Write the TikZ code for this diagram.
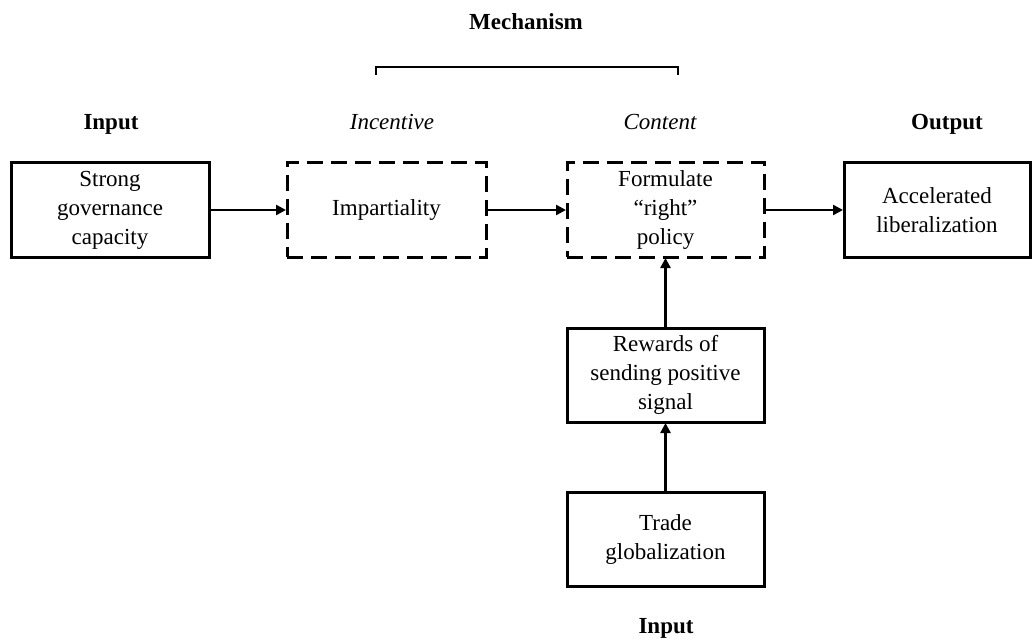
\documentclass[tikz,border=0pt]{standalone}
\usepackage{fontspec}
\setmainfont{Liberation Serif}
\usetikzlibrary{positioning,arrows.meta}

\begin{document}
\begin{tikzpicture}[
  x=1pt, y=-1pt,
  font=\fontsize{23}{29}\selectfont,
  node distance=70pt and 80pt,
  >={Triangle[length=10pt,width=10pt]},
  box/.style={rectangle, draw=black, line width=3pt, align=center,
              minimum width=198pt, minimum height=94pt,
              inner sep=0pt, outer sep=0pt},
  dashbox/.style={box, dash pattern=on 16pt off 8pt},
  flow/.style={->, draw=black, line width=2.4pt, shorten >=1pt},
  headLabel/.style={anchor=base, font=\fontsize{23}{29}\selectfont\bfseries},
  stageLabel/.style={anchor=base, font=\fontsize{23}{29}\selectfont\itshape}
]
\useasboundingbox (0,0) rectangle (1032,639);

% ===== Main chain: input -> incentive -> content -> output =====
\node[box] (strong) at (110,210) {Strong\\governance\\capacity};
\node[dashbox, right=78pt of strong, minimum width=199pt] (impart)
  {Impartiality};
\node[dashbox, right=81pt of impart, minimum width=197pt] (formulate)
  {Formulate\\“right”\\policy};
\node[box, right=80pt of formulate, minimum width=186pt] (accel)
  {Accelerated\\liberalization};

% ===== Second input branch =====
\node[box, below=71pt of formulate, minimum width=197pt] (rewards)
  {Rewards of\\sending positive\\signal};
\node[box, below=70pt of rewards, minimum width=197pt] (trade)
  {Trade\\globalization};

% ===== Column labels =====
\node[headLabel] (inputTop) at (111,130) {Input};
\node[stageLabel] (incentive) at (392,130) {Incentive};
\node[stageLabel] (content) at (660,130) {Content};
\node[headLabel] (output) at (947,130) {Output};
\node[headLabel] (inputBottom) at (666,633) {Input};

% ===== Mechanism bracket =====
\node[headLabel] (mech) at (526,30) {Mechanism};
\draw[line width=2.8pt] (376,75) -- (376,67) -- (678,67) -- (678,75);

% ===== Arrows =====
\draw[flow] (strong.east) -- (impart.west);
\draw[flow] (impart.east) -- (formulate.west);
\draw[flow] (formulate.east) -- (accel.west);
\draw[flow] (trade.north) -- (rewards.south);
\draw[flow] (rewards.north) -- (formulate.south);

\end{tikzpicture}
\end{document}
